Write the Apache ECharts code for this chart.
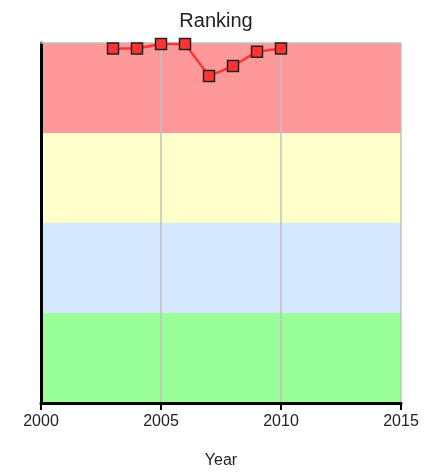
<!DOCTYPE html>
<html>
<head>
<meta charset="utf-8">
<script src="https://cdn.jsdelivr.net/npm/echarts@6/dist/echarts.min.js"></script>
<style>
  html, body { margin: 0; padding: 0; background: #fff; }
  #chart { width: 432px; height: 472px; }
</style>
</head>
<body>
<div id="chart"></div>
<script>
// data
const years = [2003, 2004, 2005, 2006, 2007, 2008, 2009, 2010]
const ranking = [1.5, 1.5, 0.3, 0.3, 9.2, 6.4, 2.4, 1.5]
const bandColors = ['#FF9999', '#FFFFCC', '#D6E8FF', '#99FF99']

const chart = echarts.init(document.getElementById('chart'))
const font = 'Liberation Sans, Arial, sans-serif'

const option = {
  animation: false,
  title: {
    text: 'Ranking',
    left: 'center',
    top: 6,
    textStyle: { fontFamily: font, fontSize: 20, fontWeight: 'normal', color: '#222' }
  },
  grid: { left: 41, right: 31, top: 43, bottom: 69, outerBoundsMode: 'none', containLabel: false },
  xAxis: [
    {
      type: 'value',
      position: 'bottom',
      min: 2000,
      max: 2015,
      interval: 5,
      name: 'Year',
      nameLocation: 'middle',
      nameGap: 50,
      nameTextStyle: { fontFamily: font, fontSize: 16, color: '#222' },
      axisLine: { onZero: false, lineStyle: { color: '#000', width: 3 } },
      axisTick: { show: true, inside: false, length: 7, lineStyle: { color: '#000', width: 2 } },
      axisLabel: { fontFamily: font, fontSize: 16, color: '#222', margin: 11, formatter: v => String(v) },
      splitLine: { show: true, lineStyle: { color: '#c0c0c0', width: 1.5 } }
    },
    {
      type: 'value',
      position: 'top',
      min: 2000,
      max: 2015,
      axisLine: { onZero: false, lineStyle: { color: '#c0c0c0', width: 1.5 } },
      axisTick: { show: false },
      axisLabel: { show: false },
      splitLine: { show: false }
    }
  ],
  yAxis: {
    type: 'value',
    inverse: true,
    min: 0,
    max: 100,
    interval: 25,
    axisLine: { show: true, onZero: false, lineStyle: { color: '#000', width: 3 } },
    axisTick: { show: false },
    axisLabel: { show: false },
    splitLine: { show: false },
    splitArea: { show: true, areaStyle: { color: bandColors, opacity: 1 } }
  },
  series: [
    {
      type: 'line',
      data: years.map((y, i) => [y, ranking[i]]),
      symbol: 'rect',
      symbolSize: 11,
      lineStyle: { color: '#FF3333', width: 2.5 },
      itemStyle: { color: '#FF3333', borderColor: '#222', borderWidth: 1.5 }
    }
  ]
}
chart.setOption(option)
</script>
</body>
</html>
